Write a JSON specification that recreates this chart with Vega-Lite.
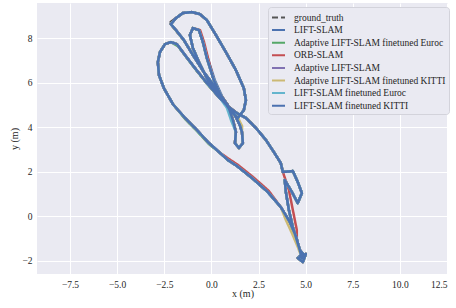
{
"$schema":"https://vega.github.io/schema/vega-lite/v6.json",
"width":411,"height":271,
"autosize":{"type":"none"},
"padding":{"left":37,"top":3,"right":8,"bottom":34},
"background":"#FFFFFF",
"data":{"values":[
{"s":"g","i":1,"x":4.8,"y":-1.88},{"s":"g","i":2,"x":4.69,"y":-1.52},{"s":"g","i":3,"x":4.48,"y":-0.89},{"s":"g","i":4,"x":4.16,"y":-0.26},{"s":"g","i":5,"x":3.68,"y":0.41},{"s":"g","i":6,"x":2.99,"y":1.09},{"s":"g","i":7,"x":2.15,"y":1.72},{"s":"g","i":8,"x":1.35,"y":2.26},{"s":"g","i":9,"x":0.87,"y":2.53},{"s":"g","i":10,"x":0.4,"y":2.89},{"s":"g","i":11,"x":-0.19,"y":3.34},{"s":"g","i":12,"x":-0.77,"y":3.88},{"s":"g","i":13,"x":-1.4,"y":4.42},{"s":"g","i":14,"x":-2.04,"y":5.04},{"s":"g","i":15,"x":-2.52,"y":5.76},{"s":"g","i":16,"x":-2.78,"y":6.35},{"s":"g","i":17,"x":-2.84,"y":6.93},{"s":"g","i":18,"x":-2.73,"y":7.38},{"s":"g","i":19,"x":-2.46,"y":7.74},{"s":"g","i":20,"x":-2.15,"y":7.83},{"s":"g","i":21,"x":-1.83,"y":7.74},{"s":"g","i":22,"x":-1.4,"y":7.25},{"s":"g","i":23,"x":-0.87,"y":6.66},{"s":"g","i":24,"x":-0.24,"y":5.99},{"s":"g","i":25,"x":0.45,"y":5.31},{"s":"g","i":26,"x":0.98,"y":4.86},{"s":"g","i":27,"x":1.3,"y":4.46},{"s":"g","i":28,"x":1.51,"y":4.1},{"s":"g","i":29,"x":1.62,"y":3.79},{"s":"g","i":30,"x":1.67,"y":3.29},{"s":"g","i":31,"x":1.46,"y":3.07},{"s":"g","i":32,"x":1.25,"y":3.29},{"s":"g","i":33,"x":1.3,"y":3.79},{"s":"g","i":34,"x":1.14,"y":4.33},{"s":"g","i":35,"x":0.87,"y":5.0},{"s":"g","i":36,"x":0.24,"y":5.76},{"s":"g","i":37,"x":-0.4,"y":6.48},{"s":"g","i":38,"x":-0.98,"y":7.25},{"s":"g","i":39,"x":-1.46,"y":7.92},{"s":"g","i":40,"x":-1.95,"y":8.42},{"s":"g","i":41,"x":-2.22,"y":8.7},{"s":"g","i":42,"x":-1.88,"y":8.91},{"s":"g","i":43,"x":-1.51,"y":9.14},{"s":"g","i":44,"x":-1.03,"y":9.18},{"s":"g","i":45,"x":-0.61,"y":9.09},{"s":"g","i":46,"x":-0.24,"y":8.82},{"s":"g","i":47,"x":0.24,"y":8.15},{"s":"g","i":48,"x":0.77,"y":7.38},{"s":"g","i":49,"x":1.3,"y":6.57},{"s":"g","i":50,"x":1.72,"y":5.76},{"s":"g","i":51,"x":1.83,"y":5.22},{"s":"g","i":52,"x":1.72,"y":4.77},{"s":"g","i":53,"x":1.4,"y":4.42},{"s":"g","i":54,"x":0.98,"y":4.77},{"s":"g","i":55,"x":0.56,"y":5.31},{"s":"g","i":56,"x":0.13,"y":6.12},{"s":"g","i":57,"x":-0.24,"y":7.11},{"s":"g","i":58,"x":-0.45,"y":7.83},{"s":"g","i":59,"x":-0.66,"y":8.37},{"s":"g","i":60,"x":-0.98,"y":8.46},{"s":"g","i":61,"x":-1.14,"y":8.15},{"s":"g","i":62,"x":-0.98,"y":7.56},{"s":"g","i":63,"x":-0.66,"y":6.93},{"s":"g","i":64,"x":-0.19,"y":6.12},{"s":"g","i":65,"x":0.34,"y":5.45},{"s":"g","i":66,"x":0.87,"y":4.95},{"s":"g","i":67,"x":1.35,"y":4.64},{"s":"g","i":68,"x":1.83,"y":4.42},{"s":"g","i":69,"x":2.36,"y":3.97},{"s":"g","i":70,"x":2.89,"y":3.43},{"s":"g","i":71,"x":3.31,"y":2.89},{"s":"g","i":72,"x":3.68,"y":2.39},{"s":"g","i":73,"x":3.79,"y":1.99},{"s":"g","i":74,"x":4.32,"y":2.03},{"s":"g","i":75,"x":4.58,"y":1.54},{"s":"g","i":76,"x":4.8,"y":1.04},{"s":"g","i":77,"x":4.58,"y":0.59},{"s":"g","i":78,"x":4.27,"y":1.09},{"s":"g","i":79,"x":3.89,"y":1.63},{"s":"g","i":80,"x":3.95,"y":1.09},{"s":"g","i":81,"x":4.11,"y":0.28},{"s":"g","i":82,"x":4.32,"y":-0.49},{"s":"g","i":83,"x":4.53,"y":-1.07},{"s":"g","i":84,"x":4.69,"y":-1.52},{"s":"g","i":85,"x":4.95,"y":-1.79},{"s":"g","i":86,"x":4.58,"y":-1.88},{"s":"g","i":87,"x":4.85,"y":-2.06},{"s":"g","i":88,"x":5.01,"y":-1.7},{"s":"g","i":89,"x":4.69,"y":-1.79},
{"s":"l","i":1,"x":4.8,"y":-1.88},{"s":"l","i":2,"x":4.69,"y":-1.52},{"s":"l","i":3,"x":4.48,"y":-0.89},{"s":"l","i":4,"x":4.16,"y":-0.26},{"s":"l","i":5,"x":3.68,"y":0.41},{"s":"l","i":6,"x":2.99,"y":1.09},{"s":"l","i":7,"x":2.15,"y":1.72},{"s":"l","i":8,"x":1.35,"y":2.26},{"s":"l","i":9,"x":0.87,"y":2.53},{"s":"l","i":10,"x":0.4,"y":2.89},{"s":"l","i":11,"x":-0.19,"y":3.34},{"s":"l","i":12,"x":-0.77,"y":3.88},{"s":"l","i":13,"x":-1.4,"y":4.42},{"s":"l","i":14,"x":-2.04,"y":5.04},{"s":"l","i":15,"x":-2.52,"y":5.76},{"s":"l","i":16,"x":-2.78,"y":6.35},{"s":"l","i":17,"x":-2.84,"y":6.93},{"s":"l","i":18,"x":-2.73,"y":7.38},{"s":"l","i":19,"x":-2.46,"y":7.74},{"s":"l","i":20,"x":-2.15,"y":7.83},{"s":"l","i":21,"x":-1.83,"y":7.74},{"s":"l","i":22,"x":-1.4,"y":7.25},{"s":"l","i":23,"x":-0.87,"y":6.66},{"s":"l","i":24,"x":-0.24,"y":5.99},{"s":"l","i":25,"x":0.45,"y":5.31},{"s":"l","i":26,"x":0.98,"y":4.86},{"s":"l","i":27,"x":1.3,"y":4.46},{"s":"l","i":28,"x":1.51,"y":4.1},{"s":"l","i":29,"x":1.62,"y":3.79},{"s":"l","i":30,"x":1.67,"y":3.29},{"s":"l","i":31,"x":1.46,"y":3.07},{"s":"l","i":32,"x":1.25,"y":3.29},{"s":"l","i":33,"x":1.3,"y":3.79},{"s":"l","i":34,"x":1.14,"y":4.33},{"s":"l","i":35,"x":0.87,"y":5.0},{"s":"l","i":36,"x":0.24,"y":5.76},{"s":"l","i":37,"x":-0.4,"y":6.48},{"s":"l","i":38,"x":-0.98,"y":7.25},{"s":"l","i":39,"x":-1.46,"y":7.92},{"s":"l","i":40,"x":-1.88,"y":8.37},{"s":"l","i":41,"x":-2.15,"y":8.64},{"s":"l","i":42,"x":-1.88,"y":8.91},{"s":"l","i":43,"x":-1.51,"y":9.14},{"s":"l","i":44,"x":-1.03,"y":9.18},{"s":"l","i":45,"x":-0.61,"y":9.09},{"s":"l","i":46,"x":-0.24,"y":8.82},{"s":"l","i":47,"x":0.24,"y":8.15},{"s":"l","i":48,"x":0.77,"y":7.38},{"s":"l","i":49,"x":1.3,"y":6.57},{"s":"l","i":50,"x":1.72,"y":5.76},{"s":"l","i":51,"x":1.83,"y":5.22},{"s":"l","i":52,"x":1.72,"y":4.77},{"s":"l","i":53,"x":1.4,"y":4.42},{"s":"l","i":54,"x":0.98,"y":4.77},{"s":"l","i":55,"x":0.61,"y":5.31},{"s":"l","i":56,"x":0.18,"y":6.12},{"s":"l","i":57,"x":-0.19,"y":7.11},{"s":"l","i":58,"x":-0.45,"y":7.83},{"s":"l","i":59,"x":-0.66,"y":8.37},{"s":"l","i":60,"x":-0.98,"y":8.46},{"s":"l","i":61,"x":-1.14,"y":8.15},{"s":"l","i":62,"x":-0.98,"y":7.56},{"s":"l","i":63,"x":-0.66,"y":6.93},{"s":"l","i":64,"x":-0.19,"y":6.12},{"s":"l","i":65,"x":0.34,"y":5.45},{"s":"l","i":66,"x":0.87,"y":4.95},{"s":"l","i":67,"x":1.35,"y":4.64},{"s":"l","i":68,"x":1.83,"y":4.42},{"s":"l","i":69,"x":2.36,"y":3.97},{"s":"l","i":70,"x":2.89,"y":3.43},{"s":"l","i":71,"x":3.31,"y":2.89},{"s":"l","i":72,"x":3.68,"y":2.39},{"s":"l","i":73,"x":3.79,"y":1.99},{"s":"l","i":74,"x":4.32,"y":2.03},{"s":"l","i":75,"x":4.58,"y":1.54},{"s":"l","i":76,"x":4.8,"y":1.04},{"s":"l","i":77,"x":4.58,"y":0.59},{"s":"l","i":78,"x":4.27,"y":1.09},{"s":"l","i":79,"x":3.89,"y":1.63},{"s":"l","i":80,"x":3.95,"y":1.09},{"s":"l","i":81,"x":4.11,"y":0.28},{"s":"l","i":82,"x":4.32,"y":-0.49},{"s":"l","i":83,"x":4.53,"y":-1.07},{"s":"l","i":84,"x":4.69,"y":-1.52},{"s":"l","i":85,"x":4.95,"y":-1.79},{"s":"l","i":86,"x":4.58,"y":-1.88},{"s":"l","i":87,"x":4.85,"y":-2.06},{"s":"l","i":88,"x":5.01,"y":-1.7},{"s":"l","i":89,"x":4.69,"y":-1.79},
{"s":"e","i":1,"x":4.8,"y":-1.88},{"s":"e","i":2,"x":4.69,"y":-1.52},{"s":"e","i":3,"x":4.48,"y":-0.89},{"s":"e","i":4,"x":4.16,"y":-0.26},{"s":"e","i":5,"x":3.68,"y":0.41},{"s":"e","i":6,"x":2.99,"y":1.09},{"s":"e","i":7,"x":2.15,"y":1.72},{"s":"e","i":8,"x":1.35,"y":2.26},{"s":"e","i":9,"x":0.87,"y":2.53},{"s":"e","i":10,"x":0.4,"y":2.89},{"s":"e","i":11,"x":-0.14,"y":3.25},{"s":"e","i":12,"x":-0.72,"y":3.79},{"s":"e","i":13,"x":-1.35,"y":4.33},{"s":"e","i":14,"x":-2.04,"y":5.04},{"s":"e","i":15,"x":-2.52,"y":5.76},{"s":"e","i":16,"x":-2.78,"y":6.35},{"s":"e","i":17,"x":-2.84,"y":6.93},{"s":"e","i":18,"x":-2.73,"y":7.38},{"s":"e","i":19,"x":-2.46,"y":7.74},{"s":"e","i":20,"x":-2.15,"y":7.83},{"s":"e","i":21,"x":-1.76,"y":7.64},{"s":"e","i":22,"x":-1.33,"y":7.15},{"s":"e","i":23,"x":-0.8,"y":6.56},{"s":"e","i":24,"x":-0.17,"y":5.89},{"s":"e","i":25,"x":0.45,"y":5.31},{"s":"e","i":26,"x":0.98,"y":4.86},{"s":"e","i":27,"x":1.3,"y":4.46},{"s":"e","i":28,"x":1.51,"y":4.1},{"s":"e","i":29,"x":1.62,"y":3.79},{"s":"e","i":30,"x":1.67,"y":3.29},{"s":"e","i":31,"x":1.46,"y":3.07},{"s":"e","i":32,"x":1.25,"y":3.29},{"s":"e","i":33,"x":1.3,"y":3.79},{"s":"e","i":34,"x":1.14,"y":4.33},{"s":"e","i":35,"x":0.87,"y":5.0},{"s":"e","i":36,"x":0.24,"y":5.76},{"s":"e","i":37,"x":-0.4,"y":6.48},{"s":"e","i":38,"x":-0.98,"y":7.25},{"s":"e","i":39,"x":-1.46,"y":7.92},{"s":"e","i":40,"x":-1.88,"y":8.37},{"s":"e","i":41,"x":-2.15,"y":8.64},{"s":"e","i":42,"x":-1.88,"y":8.91},{"s":"e","i":43,"x":-1.51,"y":9.14},{"s":"e","i":44,"x":-1.03,"y":9.18},{"s":"e","i":45,"x":-0.61,"y":9.09},{"s":"e","i":46,"x":-0.24,"y":8.82},{"s":"e","i":47,"x":0.24,"y":8.15},{"s":"e","i":48,"x":0.77,"y":7.38},{"s":"e","i":49,"x":1.3,"y":6.57},{"s":"e","i":50,"x":1.72,"y":5.76},{"s":"e","i":51,"x":1.83,"y":5.22},{"s":"e","i":52,"x":1.72,"y":4.77},{"s":"e","i":53,"x":1.4,"y":4.42},{"s":"e","i":54,"x":0.98,"y":4.77},{"s":"e","i":55,"x":0.56,"y":5.31},{"s":"e","i":56,"x":0.13,"y":6.12},{"s":"e","i":57,"x":-0.24,"y":7.11},{"s":"e","i":58,"x":-0.45,"y":7.83},{"s":"e","i":59,"x":-0.66,"y":8.37},{"s":"e","i":60,"x":-0.98,"y":8.46},{"s":"e","i":61,"x":-1.14,"y":8.15},{"s":"e","i":62,"x":-0.98,"y":7.56},{"s":"e","i":63,"x":-0.66,"y":6.93},{"s":"e","i":64,"x":-0.19,"y":6.12},{"s":"e","i":65,"x":0.34,"y":5.45},{"s":"e","i":66,"x":0.87,"y":4.95},{"s":"e","i":67,"x":1.35,"y":4.64},{"s":"e","i":68,"x":1.83,"y":4.42},{"s":"e","i":69,"x":2.36,"y":3.97},{"s":"e","i":70,"x":2.89,"y":3.43},{"s":"e","i":71,"x":3.31,"y":2.89},{"s":"e","i":72,"x":3.68,"y":2.39},{"s":"e","i":73,"x":3.79,"y":1.99},{"s":"e","i":74,"x":4.32,"y":2.03},{"s":"e","i":75,"x":4.58,"y":1.54},{"s":"e","i":76,"x":4.8,"y":1.04},{"s":"e","i":77,"x":4.58,"y":0.59},{"s":"e","i":78,"x":4.27,"y":1.09},{"s":"e","i":79,"x":3.89,"y":1.63},{"s":"e","i":80,"x":3.95,"y":1.09},{"s":"e","i":81,"x":4.11,"y":0.28},{"s":"e","i":82,"x":4.32,"y":-0.49},{"s":"e","i":83,"x":4.53,"y":-1.07},{"s":"e","i":84,"x":4.69,"y":-1.52},{"s":"e","i":85,"x":4.95,"y":-1.79},{"s":"e","i":86,"x":4.58,"y":-1.88},{"s":"e","i":87,"x":4.85,"y":-2.06},{"s":"e","i":88,"x":5.01,"y":-1.7},{"s":"e","i":89,"x":4.69,"y":-1.79},
{"s":"o","i":1,"x":4.8,"y":-1.88},{"s":"o","i":2,"x":4.69,"y":-1.52},{"s":"o","i":3,"x":4.48,"y":-0.89},{"s":"o","i":4,"x":4.16,"y":-0.26},{"s":"o","i":5,"x":3.68,"y":0.41},{"s":"o","i":6,"x":3.04,"y":1.14},{"s":"o","i":7,"x":2.2,"y":1.77},{"s":"o","i":8,"x":1.4,"y":2.31},{"s":"o","i":9,"x":0.92,"y":2.58},{"s":"o","i":10,"x":0.4,"y":2.89},{"s":"o","i":11,"x":-0.19,"y":3.34},{"s":"o","i":12,"x":-0.77,"y":3.88},{"s":"o","i":13,"x":-1.4,"y":4.42},{"s":"o","i":14,"x":-2.04,"y":5.04},{"s":"o","i":15,"x":-2.52,"y":5.76},{"s":"o","i":16,"x":-2.78,"y":6.35},{"s":"o","i":17,"x":-2.84,"y":6.93},{"s":"o","i":18,"x":-2.73,"y":7.38},{"s":"o","i":19,"x":-2.46,"y":7.74},{"s":"o","i":20,"x":-2.15,"y":7.83},{"s":"o","i":21,"x":-1.83,"y":7.74},{"s":"o","i":22,"x":-1.4,"y":7.25},{"s":"o","i":23,"x":-0.87,"y":6.66},{"s":"o","i":24,"x":-0.24,"y":5.99},{"s":"o","i":25,"x":0.45,"y":5.31},{"s":"o","i":26,"x":0.98,"y":4.86},{"s":"o","i":27,"x":1.3,"y":4.46},{"s":"o","i":28,"x":1.51,"y":4.1},{"s":"o","i":29,"x":1.62,"y":3.79},{"s":"o","i":30,"x":1.67,"y":3.29},{"s":"o","i":31,"x":1.46,"y":3.07},{"s":"o","i":32,"x":1.25,"y":3.29},{"s":"o","i":33,"x":1.3,"y":3.79},{"s":"o","i":34,"x":1.14,"y":4.33},{"s":"o","i":35,"x":0.87,"y":5.0},{"s":"o","i":36,"x":0.24,"y":5.76},{"s":"o","i":37,"x":-0.4,"y":6.48},{"s":"o","i":38,"x":-0.98,"y":7.25},{"s":"o","i":39,"x":-1.46,"y":7.92},{"s":"o","i":40,"x":-1.88,"y":8.37},{"s":"o","i":41,"x":-2.15,"y":8.64},{"s":"o","i":42,"x":-1.88,"y":8.91},{"s":"o","i":43,"x":-1.51,"y":9.14},{"s":"o","i":44,"x":-1.03,"y":9.18},{"s":"o","i":45,"x":-0.61,"y":9.09},{"s":"o","i":46,"x":-0.24,"y":8.82},{"s":"o","i":47,"x":0.24,"y":8.15},{"s":"o","i":48,"x":0.77,"y":7.38},{"s":"o","i":49,"x":1.3,"y":6.57},{"s":"o","i":50,"x":1.72,"y":5.76},{"s":"o","i":51,"x":1.83,"y":5.22},{"s":"o","i":52,"x":1.72,"y":4.77},{"s":"o","i":53,"x":1.4,"y":4.42},{"s":"o","i":54,"x":0.98,"y":4.77},{"s":"o","i":55,"x":0.56,"y":5.31},{"s":"o","i":56,"x":0.13,"y":6.12},{"s":"o","i":57,"x":-0.18,"y":7.11},{"s":"o","i":58,"x":-0.39,"y":7.83},{"s":"o","i":59,"x":-0.6,"y":8.37},{"s":"o","i":60,"x":-0.98,"y":8.46},{"s":"o","i":61,"x":-1.14,"y":8.15},{"s":"o","i":62,"x":-0.98,"y":7.56},{"s":"o","i":63,"x":-0.66,"y":6.93},{"s":"o","i":64,"x":-0.19,"y":6.12},{"s":"o","i":65,"x":0.34,"y":5.45},{"s":"o","i":66,"x":0.87,"y":4.95},{"s":"o","i":67,"x":1.35,"y":4.64},{"s":"o","i":68,"x":1.83,"y":4.42},{"s":"o","i":69,"x":2.36,"y":3.97},{"s":"o","i":70,"x":2.89,"y":3.43},{"s":"o","i":71,"x":3.31,"y":2.89},{"s":"o","i":72,"x":3.68,"y":2.39},{"s":"o","i":73,"x":3.79,"y":1.99},{"s":"o","i":74,"x":4.11,"y":1.18},{"s":"o","i":75,"x":4.32,"y":0.28},{"s":"o","i":76,"x":4.53,"y":-0.62},{"s":"o","i":77,"x":4.53,"y":-1.07},{"s":"o","i":78,"x":4.69,"y":-1.52},{"s":"o","i":79,"x":4.95,"y":-1.79},{"s":"o","i":80,"x":4.58,"y":-1.88},{"s":"o","i":81,"x":4.85,"y":-2.06},{"s":"o","i":82,"x":5.01,"y":-1.7},{"s":"o","i":83,"x":4.69,"y":-1.79},
{"s":"a","i":1,"x":4.8,"y":-1.88},{"s":"a","i":2,"x":4.69,"y":-1.52},{"s":"a","i":3,"x":4.48,"y":-0.89},{"s":"a","i":4,"x":4.16,"y":-0.26},{"s":"a","i":5,"x":3.68,"y":0.41},{"s":"a","i":6,"x":2.99,"y":1.09},{"s":"a","i":7,"x":2.15,"y":1.72},{"s":"a","i":8,"x":1.35,"y":2.26},{"s":"a","i":9,"x":0.87,"y":2.53},{"s":"a","i":10,"x":0.4,"y":2.89},{"s":"a","i":11,"x":-0.19,"y":3.34},{"s":"a","i":12,"x":-0.77,"y":3.88},{"s":"a","i":13,"x":-1.4,"y":4.42},{"s":"a","i":14,"x":-2.04,"y":5.04},{"s":"a","i":15,"x":-2.52,"y":5.76},{"s":"a","i":16,"x":-2.78,"y":6.35},{"s":"a","i":17,"x":-2.84,"y":6.93},{"s":"a","i":18,"x":-2.73,"y":7.38},{"s":"a","i":19,"x":-2.46,"y":7.74},{"s":"a","i":20,"x":-2.15,"y":7.83},{"s":"a","i":21,"x":-1.83,"y":7.74},{"s":"a","i":22,"x":-1.4,"y":7.25},{"s":"a","i":23,"x":-0.87,"y":6.66},{"s":"a","i":24,"x":-0.24,"y":5.99},{"s":"a","i":25,"x":0.45,"y":5.31},{"s":"a","i":26,"x":0.98,"y":4.86},{"s":"a","i":27,"x":1.3,"y":4.46},{"s":"a","i":28,"x":1.51,"y":4.1},{"s":"a","i":29,"x":1.62,"y":3.79},{"s":"a","i":30,"x":1.67,"y":3.29},{"s":"a","i":31,"x":1.46,"y":3.07},{"s":"a","i":32,"x":1.25,"y":3.29},{"s":"a","i":33,"x":1.3,"y":3.79},{"s":"a","i":34,"x":1.14,"y":4.33},{"s":"a","i":35,"x":0.87,"y":5.0},{"s":"a","i":36,"x":0.24,"y":5.76},{"s":"a","i":37,"x":-0.4,"y":6.48},{"s":"a","i":38,"x":-0.98,"y":7.25},{"s":"a","i":39,"x":-1.46,"y":7.92},{"s":"a","i":40,"x":-1.88,"y":8.37},{"s":"a","i":41,"x":-2.15,"y":8.64},{"s":"a","i":42,"x":-1.88,"y":8.91},{"s":"a","i":43,"x":-1.51,"y":9.14},{"s":"a","i":44,"x":-1.03,"y":9.18},{"s":"a","i":45,"x":-0.61,"y":9.09},{"s":"a","i":46,"x":-0.24,"y":8.82},{"s":"a","i":47,"x":0.24,"y":8.15},{"s":"a","i":48,"x":0.77,"y":7.38},{"s":"a","i":49,"x":1.3,"y":6.57},{"s":"a","i":50,"x":1.72,"y":5.76},{"s":"a","i":51,"x":1.83,"y":5.22},{"s":"a","i":52,"x":1.72,"y":4.77},{"s":"a","i":53,"x":1.4,"y":4.42},{"s":"a","i":54,"x":0.98,"y":4.77},{"s":"a","i":55,"x":0.56,"y":5.31},{"s":"a","i":56,"x":0.13,"y":6.12},{"s":"a","i":57,"x":-0.24,"y":7.11},{"s":"a","i":58,"x":-0.45,"y":7.83},{"s":"a","i":59,"x":-0.66,"y":8.37},{"s":"a","i":60,"x":-0.98,"y":8.46},{"s":"a","i":61,"x":-1.14,"y":8.15},{"s":"a","i":62,"x":-0.98,"y":7.56},{"s":"a","i":63,"x":-0.66,"y":6.93},{"s":"a","i":64,"x":-0.19,"y":6.12},{"s":"a","i":65,"x":0.34,"y":5.45},{"s":"a","i":66,"x":0.87,"y":4.95},{"s":"a","i":67,"x":1.35,"y":4.64},{"s":"a","i":68,"x":1.83,"y":4.42},{"s":"a","i":69,"x":2.36,"y":3.97},{"s":"a","i":70,"x":2.89,"y":3.43},{"s":"a","i":71,"x":3.31,"y":2.89},{"s":"a","i":72,"x":3.68,"y":2.39},{"s":"a","i":73,"x":3.79,"y":1.99},{"s":"a","i":74,"x":4.32,"y":2.03},{"s":"a","i":75,"x":4.58,"y":1.54},{"s":"a","i":76,"x":4.8,"y":1.04},{"s":"a","i":77,"x":4.58,"y":0.59},{"s":"a","i":78,"x":4.27,"y":1.09},{"s":"a","i":79,"x":3.89,"y":1.63},{"s":"a","i":80,"x":3.95,"y":1.09},{"s":"a","i":81,"x":4.11,"y":0.28},{"s":"a","i":82,"x":4.32,"y":-0.49},{"s":"a","i":83,"x":4.53,"y":-1.07},{"s":"a","i":84,"x":4.69,"y":-1.52},{"s":"a","i":85,"x":4.95,"y":-1.79},{"s":"a","i":86,"x":4.58,"y":-1.88},{"s":"a","i":87,"x":4.85,"y":-2.06},{"s":"a","i":88,"x":5.01,"y":-1.7},{"s":"a","i":89,"x":4.69,"y":-1.79},
{"s":"k","i":1,"x":4.8,"y":-1.88},{"s":"k","i":2,"x":4.58,"y":-1.38},{"s":"k","i":3,"x":4.27,"y":-0.76},{"s":"k","i":4,"x":3.95,"y":-0.17},{"s":"k","i":5,"x":3.68,"y":0.41},{"s":"k","i":6,"x":2.99,"y":1.09},{"s":"k","i":7,"x":2.15,"y":1.72},{"s":"k","i":8,"x":1.35,"y":2.26},{"s":"k","i":9,"x":0.87,"y":2.53},{"s":"k","i":10,"x":0.4,"y":2.89},{"s":"k","i":11,"x":-0.19,"y":3.34},{"s":"k","i":12,"x":-0.77,"y":3.88},{"s":"k","i":13,"x":-1.4,"y":4.42},{"s":"k","i":14,"x":-2.04,"y":5.04},{"s":"k","i":15,"x":-2.52,"y":5.76},{"s":"k","i":16,"x":-2.78,"y":6.35},{"s":"k","i":17,"x":-2.84,"y":6.93},{"s":"k","i":18,"x":-2.73,"y":7.38},{"s":"k","i":19,"x":-2.46,"y":7.74},{"s":"k","i":20,"x":-2.15,"y":7.83},{"s":"k","i":21,"x":-1.83,"y":7.74},{"s":"k","i":22,"x":-1.4,"y":7.25},{"s":"k","i":23,"x":-0.87,"y":6.66},{"s":"k","i":24,"x":-0.24,"y":5.99},{"s":"k","i":25,"x":0.45,"y":5.31},{"s":"k","i":26,"x":0.98,"y":4.86},{"s":"k","i":27,"x":1.42,"y":4.41},{"s":"k","i":28,"x":1.63,"y":4.05},{"s":"k","i":29,"x":1.62,"y":3.79},{"s":"k","i":30,"x":1.67,"y":3.29},{"s":"k","i":31,"x":1.46,"y":3.07},{"s":"k","i":32,"x":1.25,"y":3.29},{"s":"k","i":33,"x":1.3,"y":3.79},{"s":"k","i":34,"x":1.14,"y":4.33},{"s":"k","i":35,"x":0.87,"y":5.0},{"s":"k","i":36,"x":0.24,"y":5.76},{"s":"k","i":37,"x":-0.4,"y":6.48},{"s":"k","i":38,"x":-0.98,"y":7.25},{"s":"k","i":39,"x":-1.41,"y":7.85},{"s":"k","i":40,"x":-1.83,"y":8.3},{"s":"k","i":41,"x":-2.15,"y":8.64},{"s":"k","i":42,"x":-1.88,"y":8.91},{"s":"k","i":43,"x":-1.51,"y":9.14},{"s":"k","i":44,"x":-1.03,"y":9.18},{"s":"k","i":45,"x":-0.61,"y":9.09},{"s":"k","i":46,"x":-0.24,"y":8.82},{"s":"k","i":47,"x":0.24,"y":8.15},{"s":"k","i":48,"x":0.77,"y":7.38},{"s":"k","i":49,"x":1.3,"y":6.57},{"s":"k","i":50,"x":1.72,"y":5.76},{"s":"k","i":51,"x":1.83,"y":5.22},{"s":"k","i":52,"x":1.72,"y":4.77},{"s":"k","i":53,"x":1.4,"y":4.42},{"s":"k","i":54,"x":0.98,"y":4.77},{"s":"k","i":55,"x":0.56,"y":5.31},{"s":"k","i":56,"x":0.13,"y":6.12},{"s":"k","i":57,"x":-0.24,"y":7.11},{"s":"k","i":58,"x":-0.45,"y":7.83},{"s":"k","i":59,"x":-0.66,"y":8.37},{"s":"k","i":60,"x":-0.98,"y":8.46},{"s":"k","i":61,"x":-1.14,"y":8.15},{"s":"k","i":62,"x":-0.98,"y":7.56},{"s":"k","i":63,"x":-0.66,"y":6.93},{"s":"k","i":64,"x":-0.19,"y":6.12},{"s":"k","i":65,"x":0.34,"y":5.45},{"s":"k","i":66,"x":0.87,"y":4.95},{"s":"k","i":67,"x":1.35,"y":4.64},{"s":"k","i":68,"x":1.83,"y":4.42},{"s":"k","i":69,"x":2.36,"y":3.97},{"s":"k","i":70,"x":2.89,"y":3.43},{"s":"k","i":71,"x":3.31,"y":2.89},{"s":"k","i":72,"x":3.68,"y":2.39},{"s":"k","i":73,"x":3.79,"y":1.99},{"s":"k","i":74,"x":4.32,"y":2.03},{"s":"k","i":75,"x":4.58,"y":1.54},{"s":"k","i":76,"x":4.8,"y":1.04},{"s":"k","i":77,"x":4.58,"y":0.59},{"s":"k","i":78,"x":4.27,"y":1.09},{"s":"k","i":79,"x":3.89,"y":1.63},{"s":"k","i":80,"x":3.95,"y":1.09},{"s":"k","i":81,"x":4.11,"y":0.28},{"s":"k","i":82,"x":4.32,"y":-0.49},{"s":"k","i":83,"x":4.53,"y":-1.07},{"s":"k","i":84,"x":4.69,"y":-1.52},{"s":"k","i":85,"x":4.95,"y":-1.79},{"s":"k","i":86,"x":4.58,"y":-1.88},{"s":"k","i":87,"x":4.85,"y":-2.06},{"s":"k","i":88,"x":5.01,"y":-1.7},{"s":"k","i":89,"x":4.69,"y":-1.79},
{"s":"c","i":1,"x":4.8,"y":-1.88},{"s":"c","i":2,"x":4.69,"y":-1.52},{"s":"c","i":3,"x":4.48,"y":-0.89},{"s":"c","i":4,"x":4.16,"y":-0.26},{"s":"c","i":5,"x":3.68,"y":0.41},{"s":"c","i":6,"x":2.99,"y":1.09},{"s":"c","i":7,"x":2.15,"y":1.72},{"s":"c","i":8,"x":1.35,"y":2.26},{"s":"c","i":9,"x":0.87,"y":2.53},{"s":"c","i":10,"x":0.4,"y":2.89},{"s":"c","i":11,"x":-0.19,"y":3.34},{"s":"c","i":12,"x":-0.77,"y":3.88},{"s":"c","i":13,"x":-1.4,"y":4.42},{"s":"c","i":14,"x":-2.04,"y":5.04},{"s":"c","i":15,"x":-2.52,"y":5.76},{"s":"c","i":16,"x":-2.78,"y":6.35},{"s":"c","i":17,"x":-2.84,"y":6.93},{"s":"c","i":18,"x":-2.73,"y":7.38},{"s":"c","i":19,"x":-2.46,"y":7.74},{"s":"c","i":20,"x":-2.15,"y":7.83},{"s":"c","i":21,"x":-1.83,"y":7.74},{"s":"c","i":22,"x":-1.4,"y":7.25},{"s":"c","i":23,"x":-0.87,"y":6.66},{"s":"c","i":24,"x":-0.24,"y":5.99},{"s":"c","i":25,"x":0.45,"y":5.31},{"s":"c","i":26,"x":0.98,"y":4.86},{"s":"c","i":27,"x":1.3,"y":4.46},{"s":"c","i":28,"x":1.51,"y":4.1},{"s":"c","i":29,"x":1.62,"y":3.79},{"s":"c","i":30,"x":1.67,"y":3.29},{"s":"c","i":31,"x":1.46,"y":3.07},{"s":"c","i":32,"x":1.25,"y":3.29},{"s":"c","i":33,"x":1.3,"y":3.79},{"s":"c","i":34,"x":1.06,"y":4.28},{"s":"c","i":35,"x":0.79,"y":4.95},{"s":"c","i":36,"x":0.24,"y":5.76},{"s":"c","i":37,"x":-0.4,"y":6.48},{"s":"c","i":38,"x":-0.98,"y":7.25},{"s":"c","i":39,"x":-1.46,"y":7.92},{"s":"c","i":40,"x":-1.88,"y":8.37},{"s":"c","i":41,"x":-2.15,"y":8.64},{"s":"c","i":42,"x":-1.88,"y":8.91},{"s":"c","i":43,"x":-1.51,"y":9.14},{"s":"c","i":44,"x":-1.03,"y":9.18},{"s":"c","i":45,"x":-0.61,"y":9.09},{"s":"c","i":46,"x":-0.24,"y":8.82},{"s":"c","i":47,"x":0.24,"y":8.15},{"s":"c","i":48,"x":0.77,"y":7.38},{"s":"c","i":49,"x":1.3,"y":6.57},{"s":"c","i":50,"x":1.72,"y":5.76},{"s":"c","i":51,"x":1.83,"y":5.22},{"s":"c","i":52,"x":1.72,"y":4.77},{"s":"c","i":53,"x":1.4,"y":4.42},{"s":"c","i":54,"x":0.98,"y":4.77},{"s":"c","i":55,"x":0.56,"y":5.31},{"s":"c","i":56,"x":0.13,"y":6.12},{"s":"c","i":57,"x":-0.24,"y":7.11},{"s":"c","i":58,"x":-0.45,"y":7.83},{"s":"c","i":59,"x":-0.66,"y":8.37},{"s":"c","i":60,"x":-0.98,"y":8.46},{"s":"c","i":61,"x":-1.14,"y":8.15},{"s":"c","i":62,"x":-0.98,"y":7.56},{"s":"c","i":63,"x":-0.66,"y":6.93},{"s":"c","i":64,"x":-0.19,"y":6.12},{"s":"c","i":65,"x":0.34,"y":5.45},{"s":"c","i":66,"x":0.8,"y":4.9},{"s":"c","i":67,"x":1.35,"y":4.64},{"s":"c","i":68,"x":1.83,"y":4.42},{"s":"c","i":69,"x":2.36,"y":3.97},{"s":"c","i":70,"x":2.89,"y":3.43},{"s":"c","i":71,"x":3.31,"y":2.89},{"s":"c","i":72,"x":3.68,"y":2.39},{"s":"c","i":73,"x":3.79,"y":1.99},{"s":"c","i":74,"x":4.32,"y":2.03},{"s":"c","i":75,"x":4.58,"y":1.54},{"s":"c","i":76,"x":4.8,"y":1.04},{"s":"c","i":77,"x":4.58,"y":0.59},{"s":"c","i":78,"x":4.27,"y":1.09},{"s":"c","i":79,"x":3.89,"y":1.63},{"s":"c","i":80,"x":3.95,"y":1.09},{"s":"c","i":81,"x":4.11,"y":0.28},{"s":"c","i":82,"x":4.32,"y":-0.49},{"s":"c","i":83,"x":4.53,"y":-1.07},{"s":"c","i":84,"x":4.69,"y":-1.52},{"s":"c","i":85,"x":4.95,"y":-1.79},{"s":"c","i":86,"x":4.58,"y":-1.88},{"s":"c","i":87,"x":4.85,"y":-2.06},{"s":"c","i":88,"x":5.01,"y":-1.7},{"s":"c","i":89,"x":4.69,"y":-1.79},
{"s":"b","i":1,"x":4.8,"y":-1.88},{"s":"b","i":2,"x":4.69,"y":-1.52},{"s":"b","i":3,"x":4.48,"y":-0.89},{"s":"b","i":4,"x":4.16,"y":-0.26},{"s":"b","i":5,"x":3.68,"y":0.41},{"s":"b","i":6,"x":2.99,"y":1.09},{"s":"b","i":7,"x":2.15,"y":1.72},{"s":"b","i":8,"x":1.35,"y":2.26},{"s":"b","i":9,"x":0.87,"y":2.53},{"s":"b","i":10,"x":0.4,"y":2.89},{"s":"b","i":11,"x":-0.19,"y":3.34},{"s":"b","i":12,"x":-0.77,"y":3.88},{"s":"b","i":13,"x":-1.4,"y":4.42},{"s":"b","i":14,"x":-2.04,"y":5.04},{"s":"b","i":15,"x":-2.52,"y":5.76},{"s":"b","i":16,"x":-2.78,"y":6.35},{"s":"b","i":17,"x":-2.84,"y":6.93},{"s":"b","i":18,"x":-2.73,"y":7.38},{"s":"b","i":19,"x":-2.46,"y":7.74},{"s":"b","i":20,"x":-2.15,"y":7.83},{"s":"b","i":21,"x":-1.83,"y":7.74},{"s":"b","i":22,"x":-1.4,"y":7.25},{"s":"b","i":23,"x":-0.87,"y":6.66},{"s":"b","i":24,"x":-0.24,"y":5.99},{"s":"b","i":25,"x":0.45,"y":5.31},{"s":"b","i":26,"x":0.98,"y":4.86},{"s":"b","i":27,"x":1.3,"y":4.46},{"s":"b","i":28,"x":1.51,"y":4.1},{"s":"b","i":29,"x":1.62,"y":3.79},{"s":"b","i":30,"x":1.67,"y":3.29},{"s":"b","i":31,"x":1.46,"y":3.07},{"s":"b","i":32,"x":1.25,"y":3.29},{"s":"b","i":33,"x":1.3,"y":3.79},{"s":"b","i":34,"x":1.14,"y":4.33},{"s":"b","i":35,"x":0.87,"y":5.0},{"s":"b","i":36,"x":0.24,"y":5.76},{"s":"b","i":37,"x":-0.4,"y":6.48},{"s":"b","i":38,"x":-0.98,"y":7.25},{"s":"b","i":39,"x":-1.46,"y":7.92},{"s":"b","i":40,"x":-1.88,"y":8.37},{"s":"b","i":41,"x":-2.15,"y":8.64},{"s":"b","i":42,"x":-1.88,"y":8.91},{"s":"b","i":43,"x":-1.51,"y":9.14},{"s":"b","i":44,"x":-1.03,"y":9.18},{"s":"b","i":45,"x":-0.61,"y":9.09},{"s":"b","i":46,"x":-0.24,"y":8.82},{"s":"b","i":47,"x":0.24,"y":8.15},{"s":"b","i":48,"x":0.77,"y":7.38},{"s":"b","i":49,"x":1.3,"y":6.57},{"s":"b","i":50,"x":1.72,"y":5.76},{"s":"b","i":51,"x":1.83,"y":5.22},{"s":"b","i":52,"x":1.72,"y":4.77},{"s":"b","i":53,"x":1.4,"y":4.42},{"s":"b","i":54,"x":0.98,"y":4.77},{"s":"b","i":55,"x":0.56,"y":5.31},{"s":"b","i":56,"x":0.13,"y":6.12},{"s":"b","i":57,"x":-0.24,"y":7.11},{"s":"b","i":58,"x":-0.45,"y":7.83},{"s":"b","i":59,"x":-0.66,"y":8.37},{"s":"b","i":60,"x":-0.98,"y":8.46},{"s":"b","i":61,"x":-1.14,"y":8.15},{"s":"b","i":62,"x":-0.98,"y":7.56},{"s":"b","i":63,"x":-0.66,"y":6.93},{"s":"b","i":64,"x":-0.19,"y":6.12},{"s":"b","i":65,"x":0.34,"y":5.45},{"s":"b","i":66,"x":0.87,"y":4.95},{"s":"b","i":67,"x":1.35,"y":4.64},{"s":"b","i":68,"x":1.83,"y":4.42},{"s":"b","i":69,"x":2.36,"y":3.97},{"s":"b","i":70,"x":2.89,"y":3.43},{"s":"b","i":71,"x":3.31,"y":2.89},{"s":"b","i":72,"x":3.68,"y":2.39},{"s":"b","i":73,"x":3.79,"y":1.99},{"s":"b","i":74,"x":4.32,"y":2.03},{"s":"b","i":75,"x":4.58,"y":1.54},{"s":"b","i":76,"x":4.8,"y":1.04},{"s":"b","i":77,"x":4.58,"y":0.59},{"s":"b","i":78,"x":4.27,"y":1.09},{"s":"b","i":79,"x":3.89,"y":1.63},{"s":"b","i":80,"x":3.95,"y":1.09},{"s":"b","i":81,"x":4.11,"y":0.28},{"s":"b","i":82,"x":4.32,"y":-0.49},{"s":"b","i":83,"x":4.53,"y":-1.07},{"s":"b","i":84,"x":4.69,"y":-1.52},{"s":"b","i":85,"x":4.95,"y":-1.79},{"s":"b","i":86,"x":4.58,"y":-1.88},{"s":"b","i":87,"x":4.85,"y":-2.06},{"s":"b","i":88,"x":5.01,"y":-1.7},{"s":"b","i":89,"x":4.69,"y":-1.79}
]},
"mark":{"type":"line","strokeWidth":2.5,"clip":true,"strokeCap":"round","strokeJoin":"round"},
"encoding":{
"x":{"field":"x","type":"quantitative","scale":{"domain":[-9.25,12.55],"nice":false,"zero":false},"axis":{"title":"x (m)","values":[-7.5,-5,-2.5,0,2.5,5,7.5,10,12.5],"format":".1f","labelPadding":5,"titlePadding":0}},
"y":{"field":"y","type":"quantitative","scale":{"domain":[-2.6,9.59],"nice":false,"zero":false},"axis":{"title":"y (m)","values":[-2,0,2,4,6,8],"format":"d","labelPadding":5,"titlePadding":2}},
"order":{"field":"i","type":"quantitative"},
"color":{"field":"s","type":"nominal","scale":{"domain":["g","l","e","o","a","k","c","b"],"range":["#555555","#4C72B0","#55A868","#C44E52","#8172B2","#CCB974","#64B5CD","#4C72B0"]},"legend":{"title":null,"orient":"none","legendX":231,"legendY":4,"labelExpr":"{'g':'ground_truth','l':'LIFT-SLAM','e':'Adaptive LIFT-SLAM finetuned Euroc','o':'ORB-SLAM','a':'Adaptive LIFT-SLAM','k':'Adaptive LIFT-SLAM finetuned KITTI','c':'LIFT-SLAM finetuned Euroc','b':'LIFT-SLAM finetuned KITTI'}[datum.value]"}},
"strokeDash":{"field":"s","type":"nominal","scale":{"domain":["g","l","e","o","a","k","c","b"],"range":[[6,3],[1,0],[1,0],[1,0],[1,0],[1,0],[1,0],[1,0]]},"legend":{"title":null,"orient":"none","legendX":231,"legendY":4,"labelExpr":"{'g':'ground_truth','l':'LIFT-SLAM','e':'Adaptive LIFT-SLAM finetuned Euroc','o':'ORB-SLAM','a':'Adaptive LIFT-SLAM','k':'Adaptive LIFT-SLAM finetuned KITTI','c':'LIFT-SLAM finetuned Euroc','b':'LIFT-SLAM finetuned KITTI'}[datum.value]"}}
},
"config":{
"font":"Liberation Serif",
"view":{"fill":"#EAEAF2","stroke":null},
"axis":{"labelFont":"Liberation Serif","titleFont":"Liberation Serif","labelFontSize":9.5,"titleFontSize":10,"labelColor":"#262626","titleColor":"#262626","titleFontWeight":"normal","domain":false,"ticks":false,"grid":true,"gridColor":"#FFFFFF","gridWidth":1},
"legend":{"symbolType":"stroke","symbolSize":169,"symbolStrokeWidth":2,"labelFont":"Liberation Serif","labelFontSize":9.5,"labelColor":"#262626","padding":3,"rowPadding":0.6,"labelOffset":8,"fillColor":"#EAEAF2","strokeColor":"#D3D3DB","cornerRadius":3,"labelLimit":300}
}
}
